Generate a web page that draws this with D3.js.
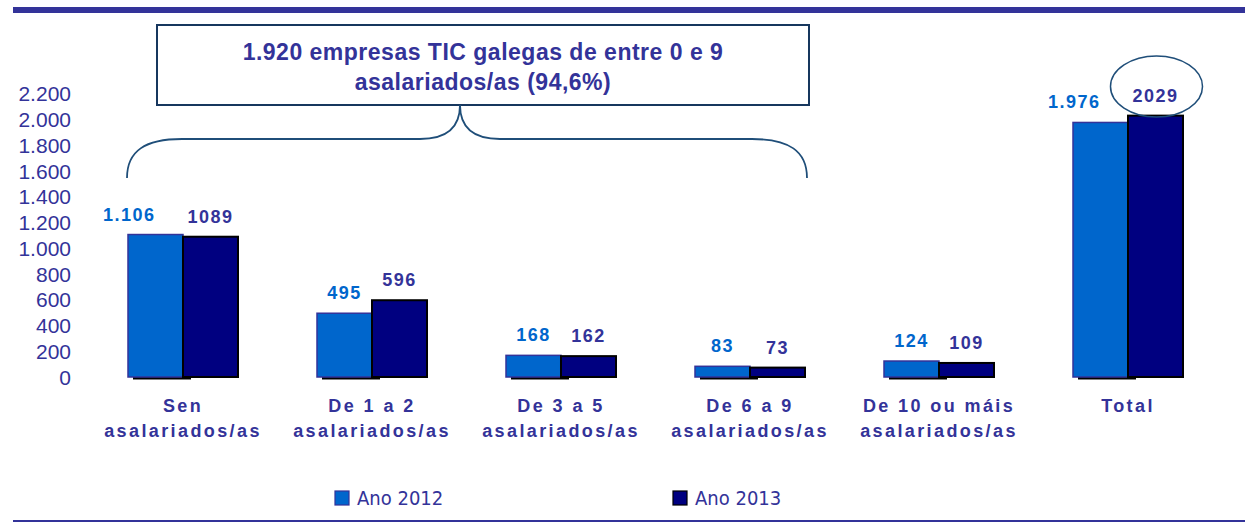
<!DOCTYPE html>
<html>
<head>
<meta charset="utf-8">
<script src="https://cdn.jsdelivr.net/npm/d3@7"></script>
<style>
  body { margin: 0; background: #fff; }
  svg { display: block; font-family: "Liberation Sans", Arial, sans-serif; }
</style>
</head>
<body>
<div id="chart"></div>
<script>
// Categorías (dúas liñas por etiqueta)
const categories = [
  ["Sen", "asalariados/as"],
  ["De 1 a 2", "asalariados/as"],
  ["De 3 a 5", "asalariados/as"],
  ["De 6 a 9", "asalariados/as"],
  ["De 10 ou máis", "asalariados/as"],
  ["Total"]
]
const years = ["Ano 2012", "Ano 2013"]
const values2012 = [1106, 495, 168, 83, 124, 1976]
const values2013 = [1089, 596, 162, 73, 109, 2029]
const yTicks = [0, 200, 400, 600, 800, 1000, 1200, 1400, 1600, 1800, 2000, 2200]
const titleLines = ["1.920 empresas TIC galegas de entre 0 e 9", "asalariados/as (94,6%)"]

function drawGraphic() {
  const width = 1245, height = 524
  const purple = "#333399", blue = "#0066cc", navy = "#000080", lineBlue = "#1f4e79"

  const svg = d3.select("#chart").append("svg")
    .attr("width", width)
    .attr("height", height)

  // Liñas superior e inferior
  svg.append("rect").attr("x", 13).attr("y", 7).attr("width", width - 13).attr("height", 6).attr("fill", purple)
  svg.append("rect").attr("x", 13).attr("y", 520).attr("width", width - 13).attr("height", 2).attr("fill", purple)

  // Escalas
  const keys = categories.map(c => c.join(" "))
  const x0 = d3.scaleBand().domain(keys).range([128, 1183]).paddingInner(0.418).paddingOuter(0)
  const x1 = d3.scaleBand().domain(years).range([0, x0.bandwidth()])
  const y = d3.scaleLinear().domain([0, 2200]).range([377, 93.6])

  // Eixo Y (só etiquetas)
  const fmtDot = d3.formatLocale({ decimal: ",", thousands: ".", grouping: [3], currency: ["", "€"] }).format(",")
  const yAxis = svg.append("g")
    .attr("transform", "translate(71,0)")
    .call(d3.axisLeft(y).tickValues(yTicks).tickSize(0).tickPadding(0).tickFormat(fmtDot))
  yAxis.select(".domain").remove()
  yAxis.selectAll("text")
    .attr("fill", purple)
    .attr("font-size", 21)
    .attr("font-family", "'Liberation Sans', Arial, sans-serif")
    .attr("dy", "0.34em")

  const rows = keys.map((k, i) => ({ key: k, lines: categories[i], v: [values2012[i], values2013[i]] }))

  const groups = svg.append("g").selectAll("g")
    .data(rows)
    .join("g")
    .attr("transform", d => `translate(${x0(d.key)},0)`)

  // Sombra baixo a primeira barra
  groups.append("rect")
    .attr("x", 5)
    .attr("y", y(0))
    .attr("width", x1.bandwidth() + 3)
    .attr("height", 2.5)
    .attr("fill", "#000")

  // Barras 2012
  groups.append("rect")
    .attr("x", x1(years[0]))
    .attr("y", d => y(d.v[0]))
    .attr("width", x1.bandwidth())
    .attr("height", d => y(0) - y(d.v[0]))
    .attr("fill", blue)
    .attr("stroke", purple)
    .attr("stroke-width", 1.5)

  // Barras 2013
  groups.append("rect")
    .attr("x", x1(years[1]))
    .attr("y", d => y(d.v[1]))
    .attr("width", x1.bandwidth())
    .attr("height", d => y(0) - y(d.v[1]))
    .attr("fill", navy)
    .attr("stroke", "#000")
    .attr("stroke-width", 2)

  // Etiquetas de valor
  groups.append("text")
    .attr("x", d => x1(years[0]) + x1.bandwidth() / 2)
    .attr("y", d => y(d.v[0]) - 14)
    .attr("text-anchor", d => d.v[0] >= 1000 ? "end" : "middle")
    .attr("fill", blue)
    .attr("font-size", 18)
    .attr("font-weight", "bold")
    .attr("letter-spacing", 1.5)
    .text(d => fmtDot(d.v[0]))

  groups.append("text")
    .attr("x", d => x1(years[1]) + x1.bandwidth() / 2)
    .attr("y", d => y(d.v[1]) - 14)
    .attr("text-anchor", "middle")
    .attr("fill", purple)
    .attr("font-size", 18)
    .attr("font-weight", "bold")
    .attr("letter-spacing", 1.5)
    .text(d => d.v[1])

  // Etiquetas de categoría
  groups.append("text")
    .attr("text-anchor", "middle")
    .attr("fill", purple)
    .attr("font-size", 18)
    .attr("font-weight", "bold")
    .attr("letter-spacing", 2.4)
    .selectAll("tspan")
    .data(d => d.lines)
    .join("tspan")
    .attr("x", x0.bandwidth() / 2)
    .attr("y", (d, i) => 412 + i * 25)
    .text(d => d)

  // Caixa do título
  svg.append("rect")
    .attr("x", 157).attr("y", 25)
    .attr("width", 652).attr("height", 80)
    .attr("fill", "#fff")
    .attr("stroke", "#17375e")
    .attr("stroke-width", 2)

  svg.append("text")
    .attr("text-anchor", "middle")
    .attr("fill", purple)
    .attr("font-size", 23)
    .attr("font-weight", "bold")
    .attr("letter-spacing", 0.5)
    .selectAll("tspan")
    .data(titleLines)
    .join("tspan")
    .attr("x", 483)
    .attr("y", (d, i) => 60 + i * 30)
    .text(d => d)

  // Chave (0 a 9 asalariados/as)
  const bx0 = x0(keys[0]) - 1, bx1 = x0(keys[3]) + x0.bandwidth() + 2
  const mid = 460, yEnd = 178, yH = 139, yTip = 105
  const p = d3.path()
  p.moveTo(bx0, yEnd)
  p.bezierCurveTo(bx0, yH + 12, bx0 + 18, yH, bx0 + 55, yH)
  p.lineTo(mid - 40, yH)
  p.bezierCurveTo(mid - 12, yH, mid, yH - 12, mid, yTip)
  p.bezierCurveTo(mid, yH - 12, mid + 12, yH, mid + 40, yH)
  p.lineTo(bx1 - 55, yH)
  p.bezierCurveTo(bx1 - 18, yH, bx1, yH + 12, bx1, yEnd)
  svg.append("path")
    .attr("d", p.toString())
    .attr("fill", "none")
    .attr("stroke", lineBlue)
    .attr("stroke-width", 1.8)

  // Elipse sobre o total 2013
  const last = rows[rows.length - 1]
  svg.append("ellipse")
    .attr("cx", x0(last.key) + x1(years[1]) + x1.bandwidth() / 2 + 1)
    .attr("cy", 86.5)
    .attr("rx", 46).attr("ry", 30.5)
    .attr("fill", "none")
    .attr("stroke", lineBlue)
    .attr("stroke-width", 1.5)

  // Lenda
  const legendX = [335, 673]
  const legend = svg.append("g").selectAll("g")
    .data(years)
    .join("g")
    .attr("transform", (d, i) => `translate(${legendX[i]},491)`)
  legend.append("rect")
    .attr("width", 14).attr("height", 14)
    .attr("fill", (d, i) => i ? navy : blue)
    .attr("stroke", (d, i) => i ? "#000" : purple)
    .attr("stroke-width", 1.2)
  legend.append("text")
    .attr("x", 22).attr("y", 7)
    .attr("dy", "0.36em")
    .attr("fill", purple)
    .attr("font-size", 20)
    .attr("font-family", "'DejaVu Sans Condensed', 'DejaVu Sans', sans-serif")
    .text(d => d)
}

window.addEventListener("load", drawGraphic)
</script>
</body>
</html>
